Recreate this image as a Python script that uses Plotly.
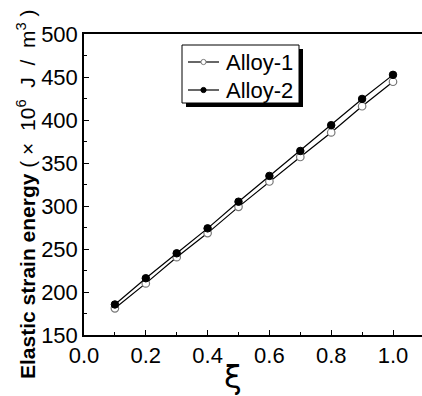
import plotly.graph_objects as go

xi = [0.1, 0.2, 0.3, 0.4, 0.5, 0.6, 0.7, 0.8, 0.9, 1.0]
alloy1 = [181, 210, 240.5, 268.5, 299, 328.5, 357, 385.5, 416, 444.5]
alloy2 = [185.5, 216, 245, 274, 305, 335, 364, 394, 424.5, 452.5]
series_names = ["Alloy-1", "Alloy-2"]
x_ticks = [0.0, 0.2, 0.4, 0.6, 0.8, 1.0]
x_tick_text = ["0.0", "0.2", "0.4", "0.6", "0.8", "1.0"]
y_ticks = [150, 200, 250, 300, 350, 400, 450, 500]

W, H = 422, 396
L, R, T, B = 84, 0, 34, 61
pw, ph = W - L - R, H - T - B

def px(xp):
    return (xp - L) / pw

def py(yp):
    return (H - B - yp) / ph

font = "Liberation Sans, Arial, sans-serif"

fig = go.Figure()
fig.add_trace(go.Scatter(
    x=xi, y=alloy1, name=series_names[0], mode="lines+markers",
    line=dict(color="black", width=1.2),
    marker=dict(symbol="circle", size=7.5, color="white", line=dict(color="#777777", width=1.2)),
))
fig.add_trace(go.Scatter(
    x=xi, y=alloy2, name=series_names[1], mode="lines+markers",
    line=dict(color="black", width=1.2),
    marker=dict(symbol="circle", size=7.5, color="black", line=dict(color="black", width=1)),
))

shapes = []
annotations = []
# manual legend: shadow, box
shapes.append(dict(type="rect", xref="paper", yref="paper",
                   x0=px(186), x1=px(303), y0=py(107), y1=py(49),
                   fillcolor="black", line=dict(width=0), layer="above"))
shapes.append(dict(type="rect", xref="paper", yref="paper",
                   x0=px(182), x1=px(299), y0=py(103), y1=py(45),
                   fillcolor="white", line=dict(color="black", width=1), layer="above"))
rows = [62, 90]
fills = ["white", "black"]
edges = ["#777777", "black"]
for i, name in enumerate(series_names):
    yc = rows[i]
    shapes.append(dict(type="line", xref="paper", yref="paper",
                       x0=px(188), x1=px(219), y0=py(yc), y1=py(yc),
                       line=dict(color="black", width=1.2), layer="above"))
    r = 2.6
    shapes.append(dict(type="circle", xref="paper", yref="paper",
                       x0=px(203.5 - r), x1=px(203.5 + r), y0=py(yc + r), y1=py(yc - r),
                       fillcolor=fills[i], line=dict(color=edges[i], width=1), layer="above"))
    annotations.append(dict(text=name, xref="paper", yref="paper", x=px(224), y=py(yc),
                            xanchor="left", yanchor="middle", showarrow=False,
                            font=dict(size=22, family=font)))

annotations.append(dict(
    text="<b>Elastic strain energy</b> ( ×  10<sup>6</sup>  J  /  m<sup>3</sup> )",
    xref="paper", yref="paper", x=px(26), y=py(195),
    xanchor="center", yanchor="middle", textangle=-90, showarrow=False,
    font=dict(size=21, family=font)))
annotations.append(dict(
    text="ξ", xref="paper", yref="paper", x=px(233), y=py(377),
    xanchor="center", yanchor="middle", showarrow=False,
    font=dict(size=32, family="DejaVu Sans")))

fig.update_layout(
    width=W, height=H,
    margin=dict(l=L, r=R, t=T, b=B, autoexpand=False),
    paper_bgcolor="white", plot_bgcolor="white",
    font=dict(family=font, color="black"),
    showlegend=False,
    xaxis=dict(
        range=[0, (W - L) / 309.0], tickvals=x_ticks, ticktext=x_tick_text,
        ticks="inside", ticklen=5, tickwidth=1, tickcolor="black",
        minor=dict(dtick=0.1, tick0=0, ticks="inside", ticklen=3, tickcolor="black"),
        showline=True, linecolor="black", linewidth=1.5, mirror=True,
        showgrid=False, zeroline=False, automargin=False,
        tickfont=dict(size=22, family=font),
    ),
    yaxis=dict(
        range=[150, 500], tickvals=y_ticks,
        ticks="inside", ticklen=5, tickwidth=1, tickcolor="black",
        minor=dict(dtick=25, tick0=150, ticks="inside", ticklen=3, tickcolor="black"),
        showline=True, linecolor="black", linewidth=1.5, mirror=False,
        showgrid=False, zeroline=False, automargin=False,
        tickfont=dict(size=22, family=font),
    ),
    shapes=shapes,
    annotations=annotations,
)

fig.write_html("out.html", config={"displayModeBar": False},
               post_script="document.body.style.margin='0';document.body.style.overflow='hidden';")
